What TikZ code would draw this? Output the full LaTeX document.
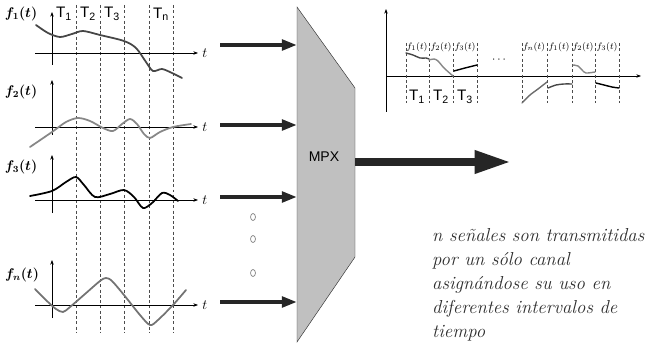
\documentclass[tikz,border=0pt]{standalone}
\usepackage{amsmath}
\usepackage{fontspec}
\setsansfont{Liberation Sans}
\usepackage{tikz}
\usetikzlibrary{arrows.meta,positioning}
\definecolor{sigdark}{RGB}{70,70,70}
\definecolor{siglight}{RGB}{135,135,135}
\definecolor{mpxfill}{RGB}{192,192,192}
\definecolor{txtgray}{RGB}{45,45,45}

\begin{document}
\begin{tikzpicture}[x=0.03cm,y=-0.03cm,>=Stealth,
  ax/.style={-{Stealth[length=4pt,width=3pt]},semithick},
  slot/.style={dash pattern=on 2.5pt off 2pt,thin,black!70},
  sig/.style={line width=1.5pt,line cap=round},
  seg/.style={line width=1.2pt,line cap=round},
  feed/.style={-{Triangle[length=13pt,width=9pt]},line width=3.4pt,black!85},
  bigfeed/.style={-{Triangle[length=32pt,width=18pt]},line width=7.6pt,black!85},
  flab/.style={font=\large},
  tlab/.style={font=\fontsize{13}{14}\sffamily},
  slab/.style={font=\footnotesize,inner sep=1pt}]
\useasboundingbox (0,0) rectangle (650,345);
% time slots of the input signals
\foreach \x in {76,100,124,149,173}
  \draw[slot] (\x,5)--(\x,332);
\node[tlab] (T1) at (64,14) {T\textsubscript{1}};
\node[tlab] (T2) at (88,14) {T\textsubscript{2}};
\node[tlab] (T3) at (112,14) {T\textsubscript{3}};
\node[tlab] (Tn) at (161,14) {T\textsubscript{n}};
% input signals
\draw[ax](52,65)--(52,12);
\draw[ax](35,53)--(198,53)node[right,flab](t1){$t$};
\node[flab] (f1) at (21,14) {$\boldsymbol{f_1(t)}$};
\draw[sig,sigdark] plot[smooth] coordinates {(36,25) (48,33) (60,37) (72,34) (83,31) (100,35) (124,41) (136,48) (146,62) (153,71) (162,69) (172,73) (182,78)};
\draw[ax](52,135)--(52,80);
\draw[ax](35,127)--(198,127)node[right,flab](t2){$t$};
\node[flab] (f2) at (21,92) {$\boldsymbol{f_2(t)}$};
\draw[sig,siglight] plot[smooth] coordinates {(30,147) (52,132) (66,122) (78,118) (90,121) (103,128) (113,131) (122,124) (130,119) (137,124) (144,134) (150,138) (160,132) (173,127) (191,124)};
\draw[ax](52,213)--(52,155);
\draw[ax](35,200)--(198,200)node[right,flab](t3){$t$};
\node[flab] (f3) at (21,167) {$\boldsymbol{f_3(t)}$};
\draw[sig,black] plot[smooth] coordinates {(30,196) (52,191) (66,182) (76,177) (84,185) (95,197) (110,194) (124,190) (134,197) (143,208) (152,203) (162,193) (170,195) (178,201)};
\draw[ax](52,318)--(52,260);
\draw[ax](35,305)--(198,305)node[right,flab](tn){$t$};
\node[flab] (fn) at (22,275) {$\boldsymbol{f_n(t)}$};
\draw[sig,siglight!85!black] plot[smooth] coordinates {(35,289) (48,302) (56,309) (63,312) (70,307) (85,294) (100,281) (106,278) (112,281) (124,295) (140,315) (150,325) (158,320) (173,305) (186,290)};
% multiplexer
\draw[fill=mpxfill,draw=black!80](297,7)--(355,88)--(355,257)--(297,342)--cycle;
\node[font=\large\sffamily] (mpx) at (324,157) {MPX};
\coordinate (mpxL) at (297,0);
\foreach \y/\n in {45/1,125/2,197/3,302/4}{
  \coordinate (in\n) at (220,\y);
  \draw[feed] (in\n)--(in\n -| mpxL);
}
\foreach \y in {217,239,273}
  \draw[gray,semithick] (253,\y) ellipse (2.1pt and 3pt);
\coordinate (out) at (355,162);
\coordinate (outEnd) at (512,162);
\draw[bigfeed] (out)--(outEnd);
% multiplexed channel
\draw[ax](386,112)--(386,9);
\draw[ax](386,76)--(641,76);
\foreach \x in {406,429,453,477,522,547,572,595,619}
  \draw[slot] (\x,43)--(\x,103);
\node[slab] (s1) at (417,47) {$f_1(t)$};
\node[slab] (s2) at (441,47) {$f_2(t)$};
\node[slab] (s3) at (465,47) {$f_3(t)$};
\node[slab] (sn) at (534,47) {$f_n(t)$};
\node[slab] (s1b) at (559,47) {$f_1(t)$};
\node[slab] (s2b) at (583,47) {$f_2(t)$};
\node[slab] (s3b) at (607,47) {$f_3(t)$};
\node (dots) at (500,60) {$\cdots$};
\node[tlab] (c1) at (417,97) {T\textsubscript{1}};
\node[tlab] (c2) at (441,97) {T\textsubscript{2}};
\node[tlab] (c3) at (465,97) {T\textsubscript{3}};
\draw[seg,sigdark] plot[smooth] coordinates {(406,53) (413,55) (420,58) (426,58) (429,59)};
\draw[seg,siglight] plot[smooth] coordinates {(429,60) (434,59) (438,61) (444,68) (453,76)};
\draw[seg,black] plot[smooth] coordinates {(454,71) (465,68) (477,65)};
\draw[seg,siglight!80!black] plot[smooth] coordinates {(522,103) (530,95) (538,89) (547,82)};
\draw[seg,sigdark] plot[smooth] coordinates {(548,88) (556,85) (564,84) (572,84)};
\draw[seg,siglight] plot[smooth] coordinates {(573,65) (578,66) (582,70) (586,73) (595,72)};
\draw[seg,black] plot[smooth] coordinates {(596,83) (604,85) (612,87) (619,88)};
% caption
\node[anchor=north west,inner sep=0pt,align=left,text=txtgray,
  font=\fontsize{16}{20.5}\selectfont\itshape] (note) at (432,228)
  {n señales son transmitidas\\por un sólo canal\\asignándose su uso en\\diferentes intervalos de\\tiempo};
\end{tikzpicture}
\end{document}
